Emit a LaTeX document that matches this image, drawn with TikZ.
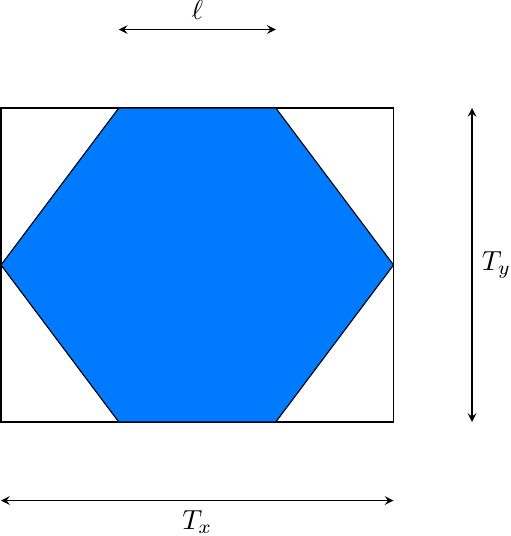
\documentclass[tikz,border=0pt]{standalone}
\usepackage{tikz}
\usetikzlibrary{arrows}
\definecolor{hexblue}{RGB}{0,123,255}

\begin{document}
\begin{tikzpicture}[>=stealth,
  dimline/.style={<->},
  hexcell/.style={fill=hexblue,draw=black}]
\useasboundingbox (-0.013,-1.452) rectangle (6.485,5.376);
% box corners
\coordinate (bl) at (0,0);
\coordinate (tr) at (5,4);
% hexagon corners
\coordinate (h1) at (1.5,4);
\coordinate (h2) at (3.5,4);
\coordinate (h3) at (5,2);
\coordinate (h4) at (3.5,0);
\coordinate (h5) at (1.5,0);
\coordinate (h6) at (0,2);
% arrow ends
\coordinate (la) at (1.5,5);
\coordinate (lb) at (3.5,5);
\coordinate (ya) at (6,0);
\coordinate (yb) at (6,4);
\coordinate (xa) at (0,-1);
\coordinate (xb) at (5,-1);

\draw (bl) rectangle (tr);
\draw[hexcell] (h1)--(h2)--(h3)--(h4)--(h5)--(h6)--cycle;
\draw[dimline] (la)--(lb) node[midway,above](ell){$\ell$};
\draw[dimline] (ya)--(yb) node[midway,right](ty){$T_y$};
\draw[dimline] (xa)--(xb) node[midway,below](tx){$T_x$};
\end{tikzpicture}
\end{document}
